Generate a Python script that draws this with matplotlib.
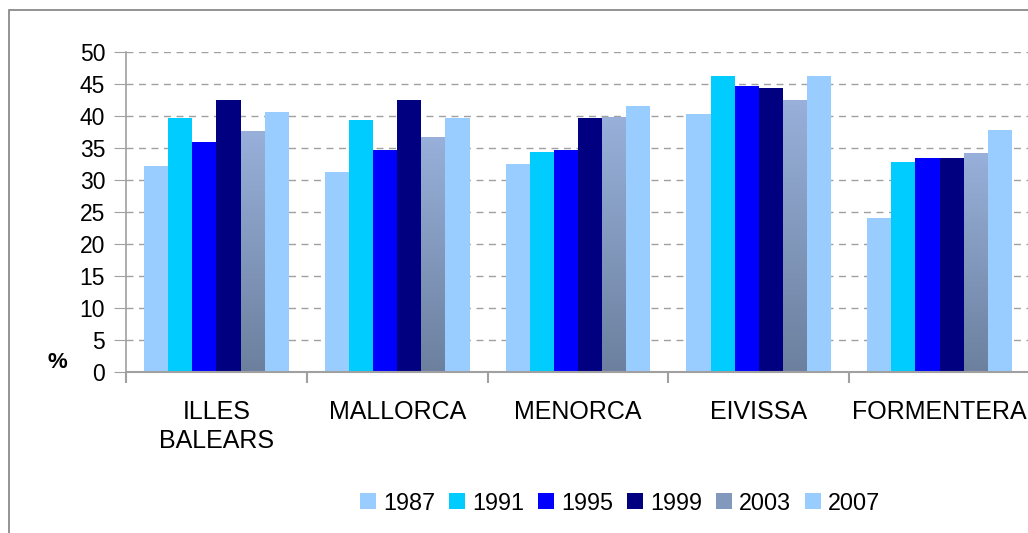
import numpy as np
import matplotlib.pyplot as plt
from matplotlib.patches import Rectangle, Patch

plt.rcParams['font.family'] = ['Liberation Sans', 'DejaVu Sans']

categories = ["ILLES\nBALEARS", "MALLORCA", "MENORCA", "EIVISSA", "FORMENTERA"]
years = ["1987", "1991", "1995", "1999", "2003", "2007"]
v1987 = [32.2, 31.3, 32.5, 40.3, 24.1]
v1991 = [39.7, 39.4, 34.4, 46.3, 32.8]
v1995 = [35.9, 34.7, 34.7, 44.7, 33.4]
v1999 = [42.5, 42.5, 39.7, 44.4, 33.4]
v2003 = [37.5, 36.6, 39.7, 42.5, 34.1]
v2007 = [40.6, 39.7, 41.6, 46.3, 37.8]
series = [v1987, v1991, v1995, v1999, v2003, v2007]
colors = ["#99ccff", "#00ccff", "#0000ff", "#000080", None, "#99ccff"]

fig = plt.figure(figsize=(10.28, 5.33), dpi=100)
# outer chart border
fig.patches.append(Rectangle((9 / 1028, -0.1), 2, 1 - 10 / 533 + 0.1, transform=fig.transFigure,
                             fill=False, edgecolor="#808080", linewidth=1.2))

ax = fig.add_axes([126 / 1028, 1 - 372 / 533, 904 / 1028, 320 / 533])
x = np.arange(len(categories))
w = 0.8 / 6

grad = np.linspace(0, 1, 256).reshape(-1, 1)
top = np.array([152, 176, 218]) / 255
bot = np.array([108, 128, 158]) / 255

for i, vals in enumerate(series):
    pos = x - 0.4 + w * (i + 0.5)
    if colors[i] is not None:
        ax.bar(pos, vals, width=w, color=colors[i], zorder=2)
    else:
        # 2003 bars have a vertical gradient fill
        bars = ax.bar(pos, vals, width=w, color="none", zorder=2)
        for b in bars:
            h = b.get_height()
            img = bot + (top - bot) * grad[:, :, None]
            ax.imshow(img, extent=[b.get_x(), b.get_x() + b.get_width(), 0, h],
                      origin="lower", aspect="auto", zorder=2)

ax.set_xlim(-0.5, 4.5)
ax.set_ylim(0, 50)
ax.set_yticks(np.arange(0, 51, 5))
ax.yaxis.grid(True, linestyle=(0, (5, 4)), color="#a0a0a0", linewidth=1)
ax.set_axisbelow(True)
ax.set_xticks(np.arange(-0.5, 5, 1))
ax.set_xticklabels([])
ax.set_xticks(x, minor=True)
ax.set_xticklabels(categories, minor=True, fontsize=18, linespacing=1.3)
ax.tick_params(axis="x", which="minor", length=0, pad=20)
ax.tick_params(axis="x", which="major", length=8, color="#a0a0a0", width=1.5)
ax.tick_params(axis="y", length=9, color="#a0a0a0", labelsize=16.5, pad=6)
for s in ["top", "right"]:
    ax.spines[s].set_visible(False)
ax.spines["left"].set_color("#a0a0a0")
ax.spines["bottom"].set_color("#a0a0a0")
ax.spines["left"].set_linewidth(1.2)
ax.spines["bottom"].set_linewidth(1.5)

fig.text(57 / 1028, 1 - 362 / 533, "%", fontsize=16, fontweight="bold", ha="center", va="center")

handles = []
for i, yr in enumerate(years):
    c = colors[i] if colors[i] is not None else "#8299bd"
    handles.append(Patch(facecolor=c, edgecolor="none", label=yr))
fig.legend(handles=handles, loc="center", bbox_to_anchor=(620 / 1028, 1 - 503 / 533), ncol=6,
           frameon=False, fontsize=16.8, handlelength=0.68, handleheight=0.68,
           handletextpad=0.3, columnspacing=0.6)

fig.savefig("out.png", dpi=100)
